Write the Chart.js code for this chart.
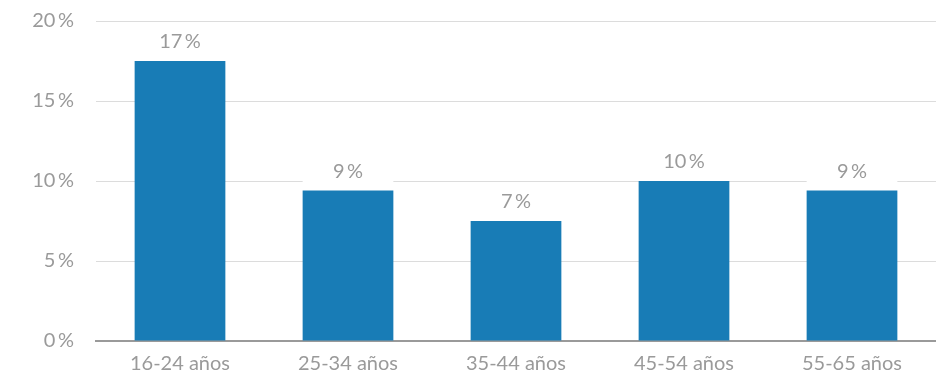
<!DOCTYPE html>
<html lang="es">
<head>
    <meta charset="UTF-8">
    <title>Porcentaje por edad</title>
    <script src="https://cdn.jsdelivr.net/npm/chart.js"></script>
    <style>
        body { margin: 0; background: #fff; }
        #wrap { width: 936px; height: 373px; }
    </style>
</head>
<body>
    <div id="wrap"><canvas id="myChart" width="936" height="373"></canvas></div>

    <script>
        // datos
        const categories = ["16-24 años", "25-34 años", "35-44 años", "45-54 años", "55-65 años"];
        const values = [17.5, 9.4, 7.5, 10.0, 9.4];
        const yTicks = [0, 5, 10, 15, 20];

        const barColor = "#187cb6";
        const textColor = "#9a9a9a";
        const fontFamily = "Lato, 'Open Sans', sans-serif";

        function pct(v) {
            return Math.floor(v) + "\u2009%";
        }

        // etiquetas encima de las barras, con fondo blanco que tapa la rejilla
        const barLabels = {
            id: "barLabels",
            beforeDatasetsDraw(chart) {
                const ctx = chart.ctx;
                const meta = chart.getDatasetMeta(0);
                ctx.save();
                ctx.fillStyle = "#fff";
                meta.data.forEach(bar => {
                    const top = bar.y - 32;
                    ctx.fillRect(bar.x - bar.width / 2, top, bar.width, bar.y - top);
                });
                ctx.restore();
            },
            afterDatasetsDraw(chart) {
                const ctx = chart.ctx;
                const meta = chart.getDatasetMeta(0);
                ctx.save();
                ctx.font = "20px " + fontFamily;
                ctx.fillStyle = textColor;
                ctx.textAlign = "center";
                ctx.textBaseline = "middle";
                meta.data.forEach((bar, i) => {
                    ctx.fillText(pct(values[i]), bar.x, bar.y - 19);
                });
                ctx.restore();
            }
        };

        new Chart(document.getElementById("myChart"), {
            type: "bar",
            data: {
                labels: categories,
                datasets: [{
                    data: values,
                    backgroundColor: barColor,
                    borderWidth: 0,
                    barPercentage: 0.54,
                    categoryPercentage: 1
                }]
            },
            options: {
                responsive: false,
                animation: false,
                layout: { padding: { top: 21, right: 0, left: 0, bottom: 0 } },
                plugins: {
                    legend: { display: false },
                    tooltip: { enabled: false }
                },
                scales: {
                    x: {
                        grid: { display: false, drawTicks: false },
                        border: { display: true, color: "#9a9a9a", width: 2 },
                        ticks: {
                            color: textColor,
                            font: { family: fontFamily, size: 20 },
                            padding: 11
                        },
                        afterFit(scale) { scale.height = 32; }
                    },
                    y: {
                        min: 0,
                        max: 20,
                        afterBuildTicks(scale) {
                            scale.ticks = yTicks.map(v => ({ value: v }));
                        },
                        grid: { color: "#dcdcdc", lineWidth: 1, drawTicks: false },
                        border: { display: false },
                        ticks: {
                            color: textColor,
                            font: { family: fontFamily, size: 20 },
                            padding: 22,
                            callback: v => v + "\u2009%"
                        },
                        afterFit(scale) {
                            scale.width = 96;
                            scale.paddingTop = 0;
                            scale.paddingBottom = 0;
                        }
                    }
                }
            },
            plugins: [barLabels]
        });
    </script>
</body>
</html>
